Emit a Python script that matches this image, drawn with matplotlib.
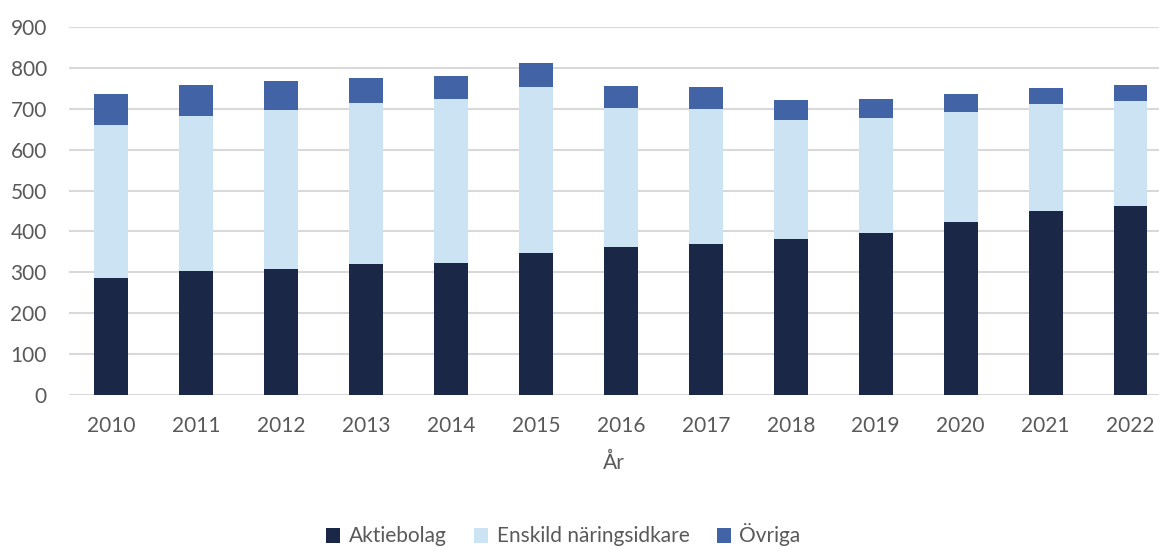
import matplotlib.pyplot as plt
import numpy as np

plt.rcParams['font.family'] = ['Lato', 'DejaVu Sans']

# Data
years = ['2010', '2011', '2012', '2013', '2014', '2015', '2016',
         '2017', '2018', '2019', '2020', '2021', '2022']
aktiebolag = [287, 304, 309, 321, 324, 348, 361, 369, 382, 397, 422, 450, 463]
enskild = [374, 379, 388, 392, 399, 405, 342, 331, 290, 280, 269, 262, 256]
ovriga = [76, 74, 70, 62, 57, 58, 53, 54, 49, 46, 44, 40, 38]

c_dark = '#1b2747'
c_light = '#cce3f3'
c_mid = '#4264a7'
text_col = '#595959'

fig = plt.figure(figsize=(11.59, 5.47), dpi=100)
ax = fig.add_axes([69 / 1159, 1 - 395 / 547, 1 - 69 / 1159, (395 - 27) / 547])

x = np.arange(len(years))
w = 0.40
bottom2 = np.array(aktiebolag)
bottom3 = bottom2 + np.array(enskild)
ax.bar(x, aktiebolag, w, color=c_dark, label='Aktiebolag', zorder=3)
ax.bar(x, enskild, w, bottom=bottom2, color=c_light, label='Enskild näringsidkare', zorder=3)
ax.bar(x, ovriga, w, bottom=bottom3, color=c_mid, label='Övriga', zorder=3)

ax.set_xlim(-0.5, (1159 - 111.7) / 84.9)
ax.set_ylim(0, 900)
ax.set_yticks(range(0, 901, 100))
ax.set_xticks(x)
ax.set_xticklabels(years)
ax.yaxis.grid(True, color='#d9d9d9', linewidth=1.5, zorder=0)
for s in ax.spines.values():
    s.set_visible(False)
ax.tick_params(axis='both', length=0, labelsize=15, labelcolor=text_col)
ax.tick_params(axis='y', pad=16)
ax.tick_params(axis='x', pad=15)
ax.set_xlabel('År', fontsize=15, color=text_col, labelpad=12)

fig.legend(loc='center', bbox_to_anchor=(0.486, 1 - 535 / 547), ncol=3,
           frameon=False, fontsize=15, labelcolor=text_col,
           handlelength=0.7, handleheight=0.7, handletextpad=0.4, columnspacing=1.3)

fig.savefig('out.png', dpi=100)
